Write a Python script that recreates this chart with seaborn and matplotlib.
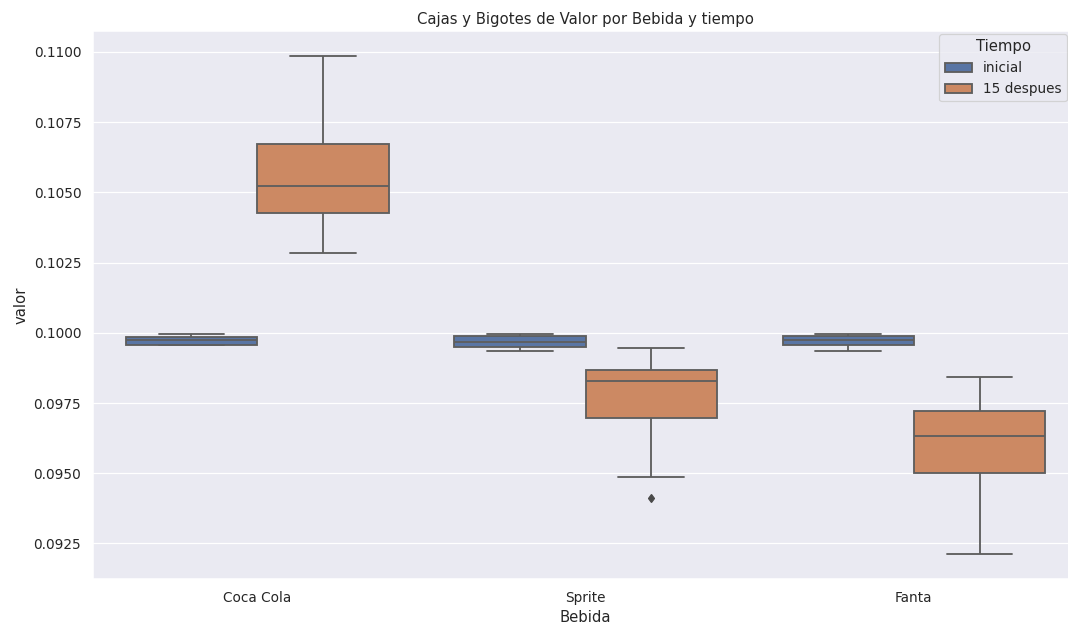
import pandas as pd
import matplotlib.pyplot as plt
import seaborn as sns

# Lecturas por grupo (9 valores cada uno, tomados del grafico)
bebidas = ["Coca Cola", "Sprite", "Fanta"]
tiempos = ["inicial", "15 despues"]

coca_inicial = [0.09955, 0.09955, 0.09956, 0.09965, 0.09975, 0.09980, 0.09986, 0.09990, 0.09996]
coca_15 = [0.10283, 0.10350, 0.10426, 0.10480, 0.10522, 0.10600, 0.10673, 0.10800, 0.10986]
sprite_inicial = [0.09934, 0.09942, 0.09950, 0.09960, 0.09969, 0.09980, 0.09990, 0.09993, 0.09996]
sprite_15 = [0.09412, 0.09486, 0.09697, 0.09760, 0.09827, 0.09850, 0.09867, 0.09900, 0.09947]
fanta_inicial = [0.09934, 0.09945, 0.09955, 0.09965, 0.09976, 0.09982, 0.09989, 0.09993, 0.09996]
fanta_15 = [0.09212, 0.09400, 0.09502, 0.09570, 0.09634, 0.09680, 0.09722, 0.09780, 0.09844]

grupos = {
    ("Coca Cola", "inicial"): coca_inicial,
    ("Coca Cola", "15 despues"): coca_15,
    ("Sprite", "inicial"): sprite_inicial,
    ("Sprite", "15 despues"): sprite_15,
    ("Fanta", "inicial"): fanta_inicial,
    ("Fanta", "15 despues"): fanta_15,
}

rows = []
for (bebida, tiempo), valores in grupos.items():
    for v in valores:
        rows.append({"Bebida": bebida, "Tiempo": tiempo, "valor": v})
df = pd.DataFrame(rows)

sns.set_theme(style="darkgrid")
plt.rcParams['font.family'] = ['DejaVu Sans']

# figura de 12x7 pulgadas a 89 dpi -> 1068x629 px
fig = plt.figure(figsize=(12, 629 / 89), dpi=89)
ax = fig.add_axes([93 / 1068, 50 / 629, 985 / 1068, 548 / 629])

sns.boxplot(data=df, x="Bebida", y="valor", hue="Tiempo",
            order=bebidas, hue_order=tiempos, ax=ax,
            linecolor="#5e5e5e", linewidth=1.5,
            flierprops={"marker": "d", "markersize": 5,
                        "markerfacecolor": "#4a4a4a", "markeredgecolor": "#4a4a4a"})

ax.set_title("Cajas y Bigotes de Valor por Bebida y tiempo")
ax.set_xlabel("Bebida")
ax.set_ylabel("valor")
ax.legend(title="Tiempo", loc="upper right",
          bbox_to_anchor=(1067 / 1068, 1 - 34 / 629),
          bbox_transform=fig.transFigure, borderaxespad=0)

fig.savefig("out.png", dpi=89)
